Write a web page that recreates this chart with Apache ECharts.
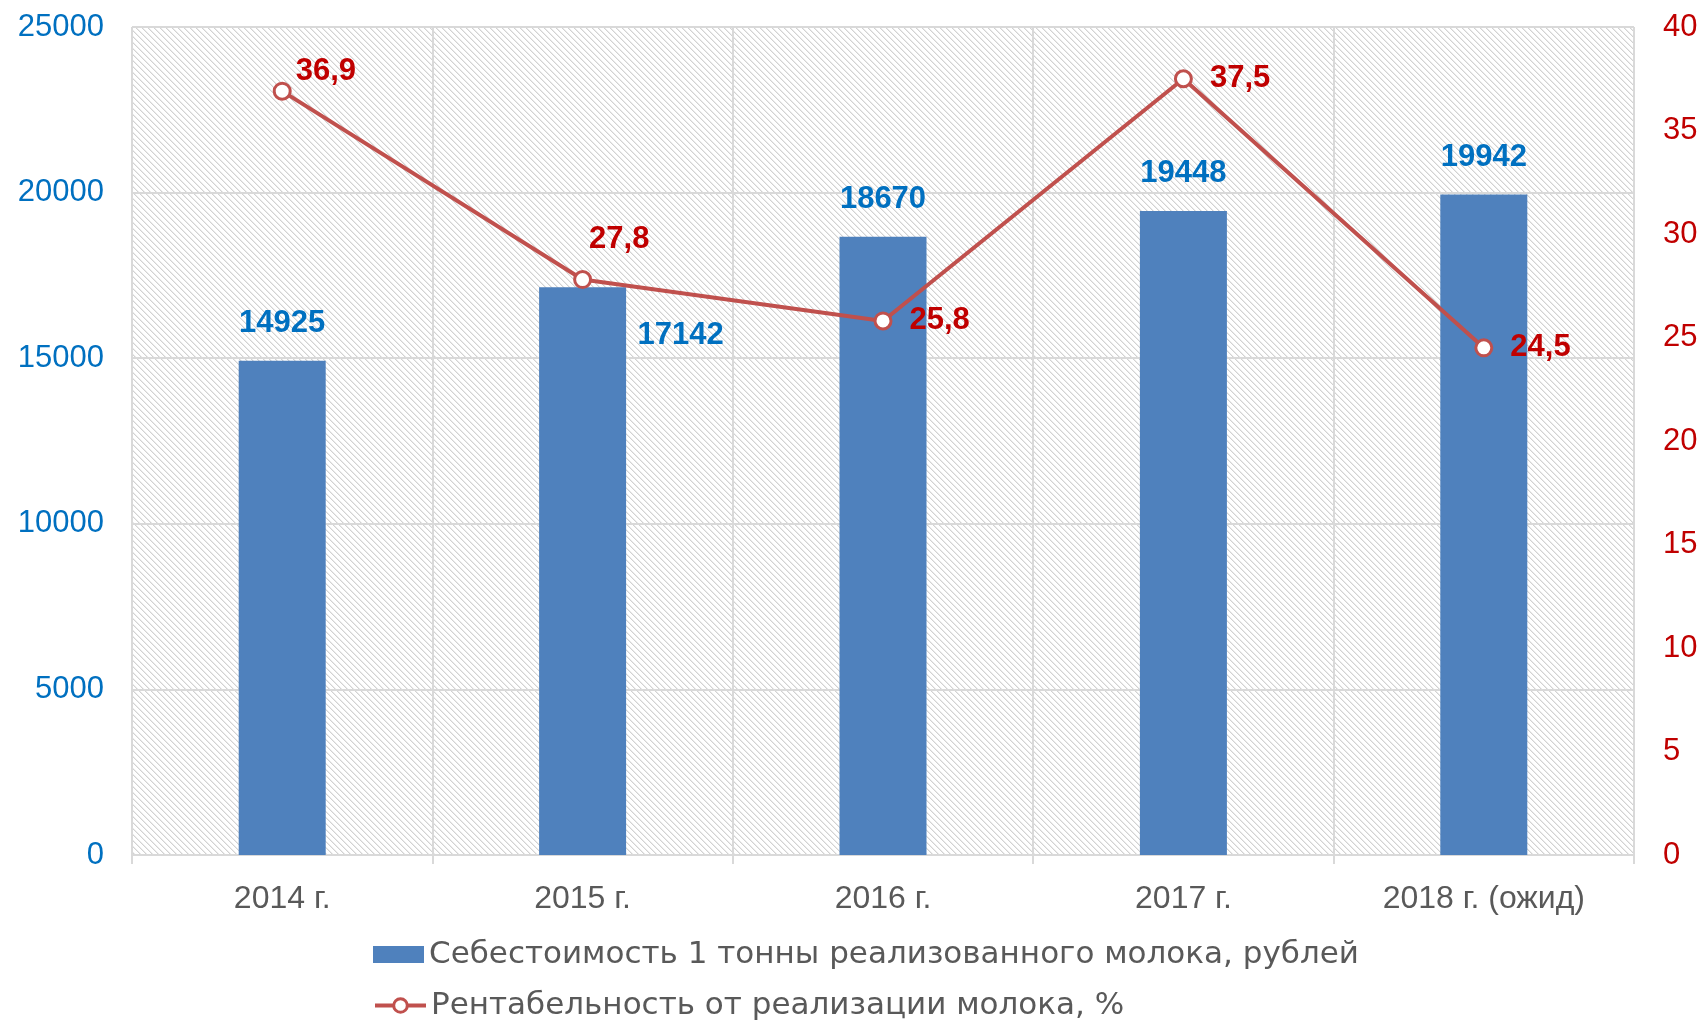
<!DOCTYPE html>
<html><head><meta charset="utf-8">
<script src="https://cdn.jsdelivr.net/npm/echarts@6/dist/echarts.min.js"></script>
<style>html,body{margin:0;padding:0;background:#fff}#c{width:1704px;height:1020px}</style>
</head><body><div id="c"></div>
<script>
const categories = ['2014 г.', '2015 г.', '2016 г.', '2017 г.', '2018 г. (ожид)'];
const costValues = [14925, 17142, 18670, 19448, 19942];
const profitValues = [36.9, 27.8, 25.8, 37.5, 24.5];
const costName = 'Себестоимость 1 тонны реализованного молока, рублей';
const profitName = 'Рентабельность от реализации молока, %';

// hatch pattern
const pc = document.createElement('canvas');
pc.width = 6; pc.height = 6;
const px = pc.getContext('2d');
px.fillStyle = '#ffffff'; px.fillRect(0,0,6,6);
for (let y = 0; y < 6; y++) for (let x = 0; x < 6; x++) {
  const d = ((x - y) % 6 + 6) % 6;
  if (d === 0) { px.fillStyle = '#d2d2d2'; px.fillRect(x, y, 1, 1); }
  else if (d === 1) { px.fillStyle = '#ebebeb'; px.fillRect(x, y, 1, 1); }
}

const chart = echarts.init(document.getElementById('c'), null, {renderer: 'canvas'});
const fmt = v => String(v).replace('.', ',');
const barLabel = { show: true, position: 'top', distance: 22, color: '#0070C0', fontWeight: 'bold', fontSize: 31, fontFamily: 'Liberation Sans' };
const lineLabel = { show: true, position: 'right', distance: 17, color: '#C00000', fontWeight: 'bold', fontSize: 31, fontFamily: 'Liberation Sans', formatter: p => fmt(p.value) };
const barLabelOverrides = { 1: { offset: [98, 86] } };
const lineLabelOverrides = { 0: { offset: [-13, -20] }, 1: { offset: [-20, -40] } };
const legendText = { fontSize: 31, color: '#595959', fontFamily: 'DejaVu Sans' };

chart.setOption({
  animation: false,
  backgroundColor: '#fff',
  grid: { left: 132, right: 70, top: 27, bottom: 165, show: true, borderWidth: 0,
          backgroundColor: { image: pc, repeat: 'repeat' } },
  legend: [
    { left: 368, top: 934, itemWidth: 51, itemHeight: 17, itemGap: 6,
      textStyle: legendText, data: [{ name: costName, icon: 'rect' }] },
    { left: 368, top: 985, itemWidth: 51, itemHeight: 17, itemGap: 6,
      textStyle: legendText,
      lineStyle: { width: 4 },
      itemStyle: { borderWidth: 3 },
      data: [profitName] }
  ],
  xAxis: {
    type: 'category', data: categories,
    axisLine: { lineStyle: { color: '#D9D9D9', width: 2 } },
    axisTick: { show: true, length: 9, lineStyle: { color: '#D9D9D9', width: 2 } },
    splitLine: { show: true, lineStyle: { color: '#D9D9D9', width: 2 } },
    axisLabel: { color: '#595959', fontSize: 32, fontFamily: 'Liberation Sans', margin: 28 }
  },
  yAxis: [
    { type: 'value', min: 0, max: 25000, interval: 5000,
      axisLine: { show: false }, axisTick: { show: false },
      splitLine: { lineStyle: { color: '#D9D9D9', width: 2 } },
      axisLabel: { color: '#0070C0', fontSize: 31, fontFamily: 'Liberation Sans', margin: 28, formatter: v => String(v) } },
    { type: 'value', min: 0, max: 40, interval: 5, position: 'right',
      axisLine: { show: false }, axisTick: { show: false }, splitLine: { show: false },
      axisLabel: { color: '#C00000', fontSize: 31, fontFamily: 'Liberation Sans', margin: 29, formatter: v => String(v) } }
  ],
  series: [
    { name: costName, type: 'bar', barWidth: 87, yAxisIndex: 0,
      itemStyle: { color: '#4F81BD' },
      label: barLabel,
      data: costValues.map((v, i) => barLabelOverrides[i] ? { value: v, label: barLabelOverrides[i] } : v) },
    { name: profitName, type: 'line', yAxisIndex: 1, z: 5,
      lineStyle: { color: '#C0504D', width: 4 },
      itemStyle: { color: '#fff', borderColor: '#C0504D', borderWidth: 3 },
      symbol: 'circle', symbolSize: 16, showAllSymbol: true,
      label: lineLabel,
      data: profitValues.map((v, i) => lineLabelOverrides[i] ? { value: v, label: lineLabelOverrides[i] } : v) }
  ]
});
</script></body></html>
